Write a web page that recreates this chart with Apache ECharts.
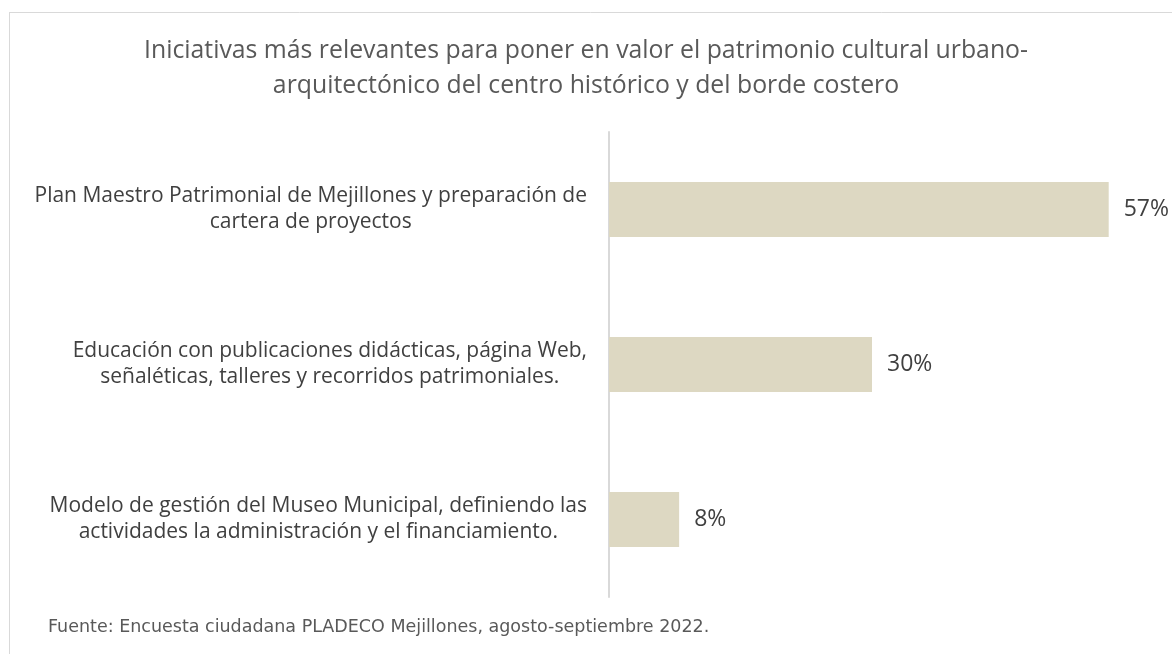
<!DOCTYPE html>
<html>
<head>
<meta charset="utf-8">
<script src="https://cdn.jsdelivr.net/npm/echarts@6/dist/echarts.min.js"></script>
<style>
html,body{margin:0;padding:0;background:#fff;}
#chart{width:1172px;height:654px;}
</style>
</head>
<body>
<div id="chart"></div>
<script>
const titleText = "Iniciativas más relevantes para poner en valor el patrimonio cultural urbano-\narquitectónico del centro histórico y del borde costero";
const categories = [
  "Plan Maestro Patrimonial de Mejillones y preparación de\ncartera de proyectos",
  "Educación con publicaciones didácticas, página Web,\nseñaléticas, talleres y recorridos patrimoniales.",
  "Modelo de gestión del Museo Municipal, definiendo las\nactividades la administración y el financiamiento."
];
const values = [57, 30, 8];
const sourceText = "Fuente: Encuesta ciudadana PLADECO Mejillones, agosto-septiembre 2022.";

const FONT = "Open Sans";
const chart = echarts.init(document.getElementById('chart'), null, {renderer: 'canvas'});
chart.setOption({
  backgroundColor: '#ffffff',
  animation: false,
  title: {
    text: titleText,
    left: 'center',
    top: 28,
    textStyle: {fontFamily: FONT, fontSize: 24.8, fontWeight: 'normal', color: '#595959', lineHeight: 35}
  },
  graphic: [
    {type: 'line', shape: {x1: 9, y1: 12.5, x2: 1172, y2: 12.5}, style: {stroke: '#d9d9d9', lineWidth: 1}},
    {type: 'line', shape: {x1: 9.5, y1: 12, x2: 9.5, y2: 654}, style: {stroke: '#d9d9d9', lineWidth: 1}},
    {type: 'text', left: 48, top: 618, style: {text: sourceText, fontFamily: 'DejaVu Sans', fontSize: 17.5, fill: '#595959'}}
  ],
  grid: {left: 609, top: 132, bottom: 57, right: 37, containLabel: false},
  xAxis: {type: 'value', min: 0, max: 60, show: false, splitLine: {show: false}},
  yAxis: {
    type: 'category',
    data: categories,
    inverse: true,
    axisLine: {show: true, lineStyle: {color: '#d9d9d9', width: 2}},
    axisTick: {show: false},
    axisLabel: {
      margin: 22,
      align: 'right',
      formatter: function (v) { return v.split('\n').map(s => '{c|' + s + '}').join('\n'); },
      rich: {c: {align: 'center', fontFamily: FONT, fontSize: 21, color: '#404040', lineHeight: 26}}
    }
  },
  series: [{
    type: 'bar',
    data: values,
    barWidth: 55,
    itemStyle: {color: '#ddd8c2'},
    label: {show: true, position: 'right', distance: 15, formatter: '{c}%', fontFamily: FONT, fontSize: 23, color: '#404040'}
  }]
});
</script>
</body>
</html>
